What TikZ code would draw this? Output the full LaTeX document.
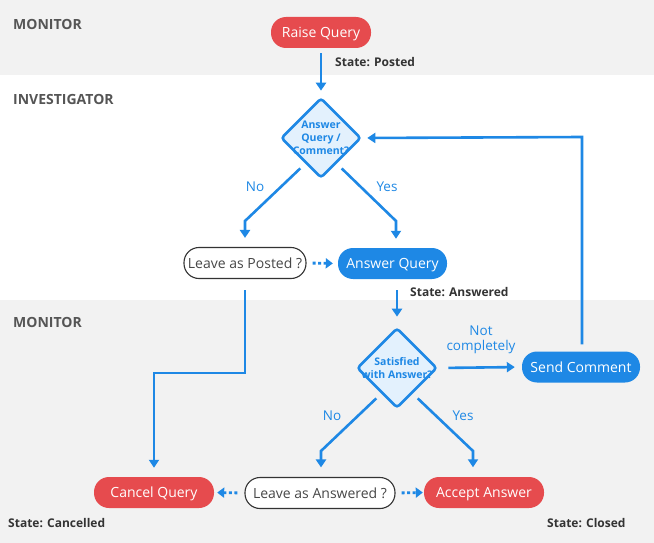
\documentclass[tikz,border=0pt]{standalone}
\usepackage{fontspec}
\setmainfont{Open Sans}
\usetikzlibrary{shapes.geometric,arrows.meta,calc}
\definecolor{qred}{HTML}{E64B4E}
\definecolor{qblue}{HTML}{1E88E5}
\definecolor{qband}{HTML}{F2F2F2}
\definecolor{qlight}{HTML}{E3F1FD}
\definecolor{qlab}{HTML}{555555}
\definecolor{qdark}{HTML}{333333}
\tikzset{
  pill/.style={rectangle, rounded corners=15pt, minimum height=31pt, inner sep=0pt,
    font=\fontsize{14}{16}\selectfont, text height=10pt, text depth=0pt, align=center},
  redpill/.style={pill, fill=qred, text=white},
  bluepill/.style={pill, fill=qblue, text=white},
  whitepill/.style={pill, fill=white, draw=qdark, line width=1.1pt, text=qdark!90},
  decision/.style={diamond, minimum width=80pt, minimum height=80pt, inner sep=0pt,
    draw=qblue, fill=qlight, line width=2.6pt, rounded corners=3pt},
  dtext/.style={font=\bfseries\fontsize{10.5}{12.8}\selectfont, text=qblue, align=center, inner sep=0pt},
  sect/.style={font=\bfseries\fontsize{14}{16}\selectfont, text=qlab, anchor=west, inner sep=0pt},
  statelab/.style={font=\bfseries\fontsize{12}{14}\selectfont, text=qdark, anchor=west, inner sep=0pt},
  elab/.style={font=\fontsize{13.5}{15}\selectfont, text=qblue, align=center, inner sep=0pt},
  conn/.style={draw=qblue, line width=2.6pt, -{Triangle[width=10pt,length=8pt]}},
  dotconn/.style={draw=qblue, line width=2.8pt, dash pattern=on 3pt off 2.5pt,
    -{Triangle[width=10pt,length=7pt]}}
}
\begin{document}
\begin{tikzpicture}[x=1pt,y=-1pt]
\useasboundingbox (0,0) rectangle (654,543);
\fill[qband] (0,0) rectangle (654,75);
\fill[white] (0,75) rectangle (654,300);
\fill[qband] (0,300) rectangle (654,543);

% section labels
\node[sect] (s1) at (13,24.5) {MONITOR};
\node[sect] (s2) at (13,99.5) {INVESTIGATOR};
\node[sect] (s3) at (13,322.5) {MONITOR};

% nodes
\node[redpill, minimum width=100pt] (rq) at (321,32.5) {Raise Query};
\node[decision] (d1) at (321,138) {};
\node[dtext] (d1t) at (321,138) {Answer\\Query /\\Comment?};
\node[whitepill, minimum width=122pt] (lp) at (245,263) {Leave as Posted ?};
\node[bluepill, minimum width=109pt] (aq) at (392.5,263.5) {Answer Query};
\node[decision] (d2) at (397,368) {};
\node[dtext] (d2t) at (397,368) {Satisfied\\with Answer?};
\node[bluepill, minimum width=118pt] (sc) at (581,367) {Send Comment};
\node[redpill, minimum width=120pt] (cq) at (154,492.5) {Cancel Query};
\node[whitepill, minimum width=150pt] (la) at (320,493) {Leave as Answered ?};
\node[redpill, minimum width=120pt] (aa) at (484,492.5) {Accept Answer};

% state labels
\node[statelab] (st1) at (335,62) {State: Posted};
\node[statelab] (st2) at (410,292) {State: Answered};
\node[statelab] (st3) at (8,523) {State: Cancelled};
\node[statelab] (st4) at (547,523) {State: Closed};

% bend coordinates
\coordinate (b1) at (245,221);
\coordinate (b2) at (396,221);
\coordinate (b3) at (582,137);
\coordinate (b4) at (245,373);
\coordinate (b5) at (154,373);
\coordinate (b6) at (321,451);
\coordinate (b7) at (473,451);

% connectors
\draw[conn, shorten <=5pt, shorten >=6pt] (rq.south) -- (d1.north);
\draw[conn, shorten <=7pt, shorten >=9pt] ($(d1.west)!0.62!(d1.south)$) -- (b1) -- (lp.north);
\draw[conn, shorten <=7pt, shorten >=9pt] ($(d1.east)!0.62!(d1.south)$) -- (b2) -- (b2 |- aq.north);
\draw[dotconn, shorten <=6pt, shorten >=5pt] (lp.east) -- (aq.west);
\draw[conn, shorten <=11pt, shorten >=10pt] (d2.north |- aq.south) -- (d2.north);
\draw[conn, shorten <=10pt, shorten >=7pt] (d2.east) -- (sc.west);
\draw[conn, shorten <=7pt, shorten >=5pt] (b3 |- sc.north) -- (b3) -- (d1.east);
\draw[conn, shorten <=11pt, shorten >=9pt] (lp.south) -- (b4) -- (b5) -- (cq.north);
\draw[conn, shorten <=7pt, shorten >=9.5pt] ($(d2.west)!0.62!(d2.south)$) -- (b6) -- (b6 |- la.north);
\draw[conn, shorten <=7pt, shorten >=9.5pt] ($(d2.east)!0.62!(d2.south)$) -- (b7) -- (b7 |- aa.north);
\draw[dotconn, shorten <=7pt, shorten >=3pt] (la.west) -- (cq.east);
\draw[dotconn, shorten <=6pt, shorten >=1pt] (la.east) -- (aa.west);

% edge labels
\node[elab] (e1) at (255,187) {No};
\node[elab] (e2) at (387,187) {Yes};
\node[elab] (e3) at (332,416) {No};
\node[elab] (e4) at (463,416) {Yes};
\node[elab] (e5) at (481,340) {Not\\completely};
\end{tikzpicture}
\end{document}
